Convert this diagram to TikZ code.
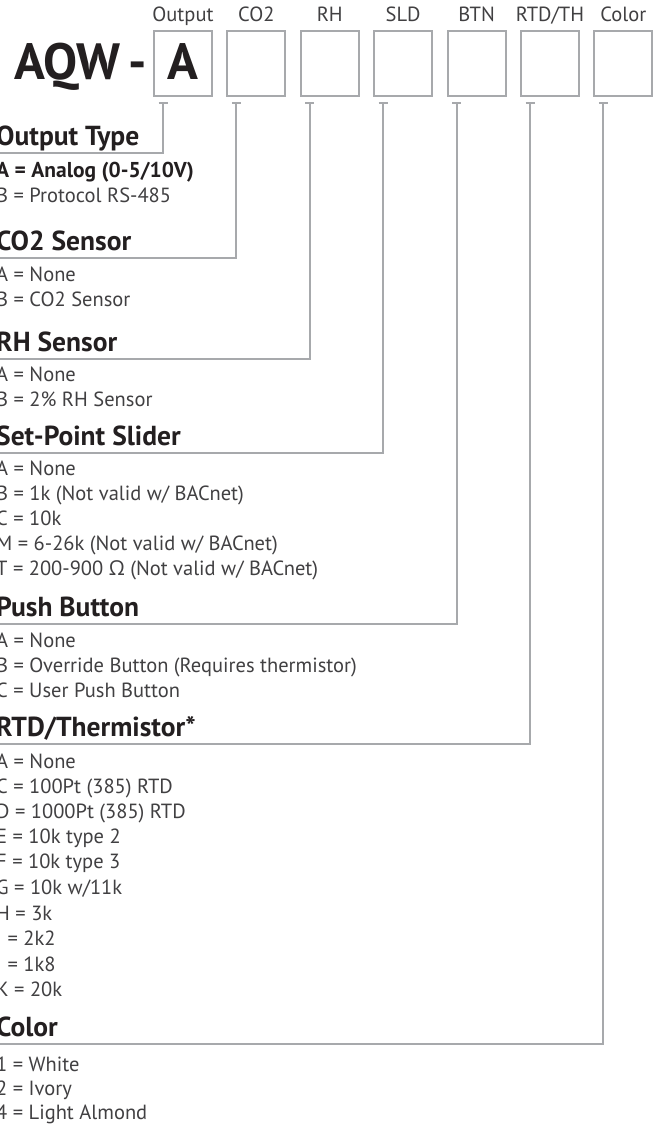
\documentclass[tikz,border=0pt]{standalone}
\usepackage{fontspec}
\usetikzlibrary{calc}
\setmainfont{PT Sans}
\newfontfamily\omegafont{Open Sans}
\definecolor{linegray}{HTML}{A7A9AC}
\definecolor{bodytext}{HTML}{414042}
\definecolor{headtext}{HTML}{231F20}
\begin{document}
\begin{tikzpicture}[x=1pt,y=-1pt,
  codebox/.style={draw=linegray,line width=1.9pt,minimum width=58pt,minimum height=65pt,inner sep=0pt,anchor=north west},
  toplabel/.style={font=\fontsize{20.5}{22}\selectfont,text=bodytext,anchor=base,inner sep=0pt},
  bigtext/.style={font=\fontsize{51}{56}\selectfont\bfseries,text=headtext,inner sep=0pt},
  heading/.style={font=\fontsize{27.5}{29}\selectfont\bfseries,text=headtext,anchor=base west,inner sep=0pt},
  item/.style={font=\fontsize{20.5}{22}\selectfont,text=bodytext,anchor=base west,inner sep=0pt},
  bolditem/.style={font=\fontsize{21.5}{23}\selectfont\bfseries,text=headtext,anchor=base west,inner sep=0pt},
  conn/.style={draw=linegray,line width=1.9pt},
  tick/.style={draw=linegray,line width=1.9pt}
]
\useasboundingbox (0,0) rectangle (660,1137);
\fill[white] (0,0) rectangle (660,1137);

% code prefix
\node[bigtext,anchor=base west] (aqw) at (14,80) {AQW};
\node[bigtext,anchor=base west] (dash) at (128,80) {-};

% boxes
\foreach \i/\lab in {1/Output,2/CO2,3/RH,4/SLD,5/BTN,6/RTD\slash TH,7/Color}{
  \pgfmathsetmacro\bx{153+73.4*(\i-1)}
  \node[codebox] (b\i) at (\bx,30) {};
  \node[toplabel] (l\i) at ($(b\i.north)+(0,-8)$) {\lab};
  \coordinate (t\i) at (\bx+10,103);
  \draw[tick] ([xshift=-4.5pt]t\i) -- ([xshift=4.5pt]t\i);
}
\node[bigtext,anchor=base] (aval) at (b1.center |- 0,80) {A};

% line ends at the left edge
\coordinate (e1) at (-2,153);
\coordinate (e2) at (-2,258);
\coordinate (e3) at (-2,359);
\coordinate (e4) at (-2,453);
\coordinate (e5) at (-2,624);
\coordinate (e6) at (-2,744);
\coordinate (e7) at (-2,1044);
\foreach \i in {1,...,7}{
  \draw[conn] (t\i) |- (e\i);
}

% Output type
\node[heading] (h1) at (-4,146) {Output Type};
\node[bolditem] (o1) at (-4,177) {A = Analog (0-5/10V)};
\node[item] (o2) at (-4,202) {B = Protocol RS-485};

% CO2
\node[heading] (h2) at (-4,250) {CO2 Sensor};
\node[item] (c1) at (-4,281) {A = None};
\node[item] (c2) at (-4,306) {B = CO2 Sensor};

% RH
\node[heading] (h3) at (-4,351) {RH Sensor};
\node[item] (r1) at (-4,381) {A = None};
\node[item] (r2) at (-4,406) {B = 2\% RH Sensor};

% Slider
\node[heading] (h4) at (-4,445) {Set-Point Slider};
\node[item] (s1) at (-4,475) {A = None};
\node[item] (s2) at (-4,500) {B = 1k (Not valid w/ BACnet)};
\node[item] (s3) at (-4,525) {C = 10k};
\node[item] (s4) at (-4,550) {M = 6-26k (Not valid w/ BACnet)};
\node[item] (s5) at (-4,575) {T = 200-900 {\omegafont Ω} (Not valid w/ BACnet)};

% Push button
\node[heading] (h5) at (-4,616) {Push Button};
\node[item] (p1) at (-4,647) {A = None};
\node[item] (p2) at (-4,672) {B = Override Button (Requires thermistor)};
\node[item] (p3) at (-4,697) {C = User Push Button};

% RTD
\node[heading] (h6) at (-4,736) {RTD/Thermistor*};
\node[item] (d1) at (-4,768) {A = None};
\node[item] (d2) at (-4,793) {C = 100Pt (385) RTD};
\node[item] (d3) at (-4,818) {D = 1000Pt (385) RTD};
\node[item] (d4) at (-4,843) {E = 10k type 2};
\node[item] (d5) at (-4,868) {F = 10k type 3};
\node[item] (d6) at (-4,894) {G = 10k w/11k};
\node[item] (d7) at (-4,920) {H = 3k};
\node[item] (d8) at (-4,945) {I = 2k2};
\node[item] (d9) at (-4,971) {J = 1k8};
\node[item] (d10) at (-4,996) {K = 20k};

% Color
\node[heading] (h7) at (-4,1036) {Color};
\node[item] (k1) at (-4,1071) {1 = White};
\node[item] (k2) at (-4,1095) {2 = Ivory};
\node[item] (k3) at (-4,1119) {4 = Light Almond};
\end{tikzpicture}
\end{document}
